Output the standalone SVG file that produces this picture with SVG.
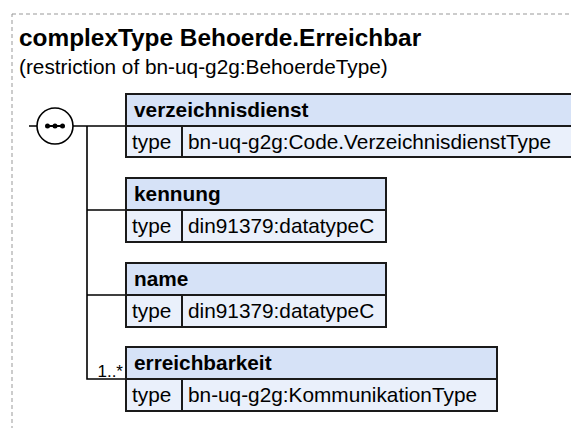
<svg xmlns="http://www.w3.org/2000/svg" width="571" height="428" viewBox="0 0 571 428">
<style>
.frame{fill:none;stroke:#999;stroke-width:1;stroke-dasharray:4 3}
.title{font-family:"Liberation Sans",Arial,sans-serif;font-size:24.4px;font-weight:bold;fill:#000}
.sub{font-family:"Liberation Sans",Arial,sans-serif;font-size:20.8px;fill:#000}
.hd{fill:#d6e2f7;stroke:#1a1a1a;stroke-width:2}
.row{fill:#eaf0fb;stroke:#1a1a1a;stroke-width:2}
.div{stroke:#1a1a1a;stroke-width:2}
.name{font-family:"Liberation Sans",Arial,sans-serif;font-size:20.8px;font-weight:bold;fill:#000}
.txt{font-family:"Liberation Sans",Arial,sans-serif;font-size:20.8px;fill:#000}
.card{font-family:"Liberation Sans",Arial,sans-serif;font-size:17px;fill:#000}
.ln{fill:none;stroke:#000;stroke-width:1.6}
</style>
<rect class="frame" x="12" y="14" width="580" height="440"/>
<text class="title" x="19" y="46">complexType Behoerde.Erreichbar</text>
<text class="sub" x="19" y="74">(restriction of bn-uq-g2g:BehoerdeType)</text>
<g id="connectors">
<path class="ln" d="M29,126 H37 M73,126 H126 M87,126 V379 H126 M87,210 H126 M87,295 H126"/>
</g>
<g id="sequence">
<circle cx="55" cy="126" r="18" fill="#fff" stroke="#000" stroke-width="1.6"/>
<circle cx="47.5" cy="126" r="2.5" fill="#000"/>
<circle cx="55" cy="126" r="2.5" fill="#000"/>
<circle cx="62.5" cy="126" r="2.5" fill="#000"/>
<line x1="47.5" y1="126" x2="62.5" y2="126" stroke="#000" stroke-width="2"/>
</g>
<g id="verzeichnisdienst">
<rect class="hd" x="126" y="94" width="450" height="32"/>
<rect class="row" x="126" y="126" width="450" height="31"/>
<line class="div" x1="182" y1="126" x2="182" y2="157"/>
<text class="name" x="134" y="117">verzeichnisdienst</text>
<text class="txt" x="132" y="149">type</text>
<text class="txt" x="188" y="149">bn-uq-g2g:Code.VerzeichnisdienstType</text>
</g>
<g id="kennung">
<rect class="hd" x="126" y="178" width="260" height="32"/>
<rect class="row" x="126" y="210" width="260" height="32"/>
<line class="div" x1="182" y1="210" x2="182" y2="242"/>
<text class="name" x="134" y="201">kennung</text>
<text class="txt" x="132" y="233">type</text>
<text class="txt" x="188" y="233">din91379:datatypeC</text>
</g>
<g id="name">
<rect class="hd" x="126" y="263" width="260" height="32"/>
<rect class="row" x="126" y="295" width="260" height="32"/>
<line class="div" x1="182" y1="295" x2="182" y2="327"/>
<text class="name" x="134" y="286">name</text>
<text class="txt" x="132" y="318">type</text>
<text class="txt" x="188" y="318">din91379:datatypeC</text>
</g>
<g id="erreichbarkeit">
<rect class="hd" x="126" y="347" width="371" height="32"/>
<rect class="row" x="126" y="379" width="371" height="32"/>
<line class="div" x1="182" y1="379" x2="182" y2="411"/>
<text class="name" x="134" y="370">erreichbarkeit</text>
<text class="txt" x="132" y="402">type</text>
<text class="txt" x="188" y="402">bn-uq-g2g:KommunikationType</text>
<text class="card" x="123" y="377" text-anchor="end">1..*</text>
</g>
</svg>
